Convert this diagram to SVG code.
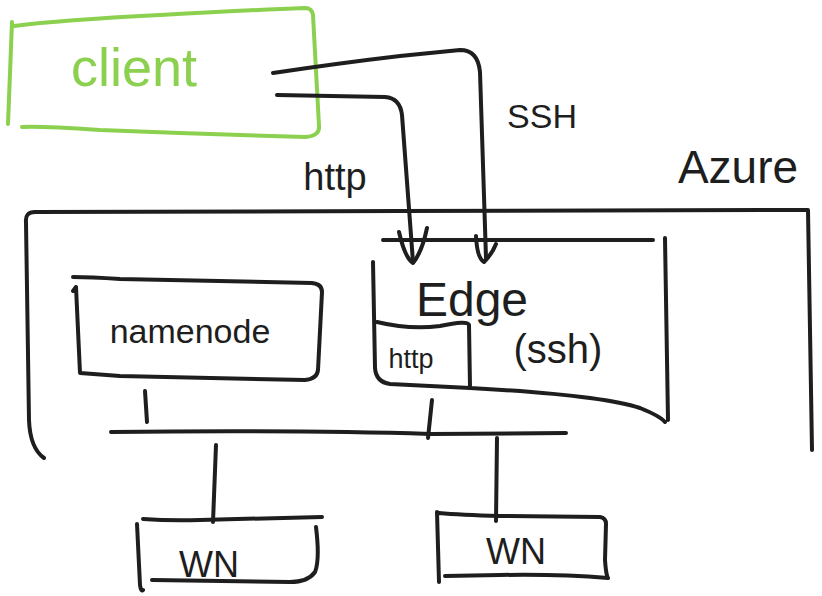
<svg xmlns="http://www.w3.org/2000/svg" width="822" height="596" viewBox="0 0 822 596">
<style>
.s{fill:none;stroke:#1e1e1e;stroke-width:4;stroke-linecap:round;stroke-linejoin:round}
.g{fill:none;stroke:#8cd04f;stroke-width:4;stroke-linecap:round;stroke-linejoin:round}
.t{font-family:"Liberation Sans",Arial,sans-serif;fill:#1e1e1e}
.tg{font-family:"Liberation Sans",Arial,sans-serif;fill:#8cd04f}
</style>
<rect width="822" height="596" fill="#ffffff"/>
<g id="client">
<path class="g" d="M12,22 L8,124 M14,26 Q60,20 160,15 Q250,10 305,8 Q312,8 313,15 L319,126 Q320,136 305,137 Q200,134 100,130 Q40,126 22,127"/>
<text class="tg" x="134" y="86" font-size="54" text-anchor="middle">client</text>
</g>
<g id="azure">
<path class="s" d="M44,458 Q30,448 29,420 L26,222 Q25,212 35,212 L400,211 L808,210 L812,450"/>
<text class="t" x="738" y="183" font-size="46" text-anchor="middle">Azure</text>
</g>
<g id="edge">
<path class="s" d="M383,240 L653,240 M665,238 L668,420 M373,262 L375,368 Q376,382 390,384 L470,388 Q600,395 640,408 Q660,416 665,422 M377,322 Q410,330 440,326 Q468,320 469,325 L470,387"/>
<text class="t" x="472" y="316" font-size="48" text-anchor="middle">Edge</text>
<text class="t" x="558" y="363" font-size="40" text-anchor="middle">(ssh)</text>
<text class="t" x="411" y="368" font-size="27" text-anchor="middle">http</text>
</g>
<g id="namenode">
<path class="s" d="M73,277 Q90,277 120,279 L312,283 Q322,284 322,292 L318,370 Q317,379 305,380 Q200,378 120,376 L80,373 L76,287 M76,287 L73,291"/>
<text class="t" x="190" y="343" font-size="34" text-anchor="middle">namenode</text>
</g>
<g id="wn1">
<path class="s" d="M143,519 Q170,521 200,520 L322,517 M137,524 L140,585 Q141,592 143,590 M316,527 Q320,560 315,572 Q308,582 290,582 L152,580"/>
<text class="t" x="209" y="577" font-size="36" text-anchor="middle">WN</text>
</g>
<g id="wn2">
<path class="s" d="M437,512 L439,582 M439,513 Q460,515 500,516 L600,517 Q606,518 606,524 L605,560 Q606,575 608,578 Q560,574 500,575 L445,576"/>
<text class="t" x="516" y="564" font-size="36" text-anchor="middle">WN</text>
</g>
<g id="connectors">
<path class="s" d="M273,73 Q340,63 400,56 L460,50 Q478,50 480,72 L486,258"/>
<path class="s" d="M476,236 Q477,258 484,262 Q492,254 496,244"/>
<path class="s" d="M277,95 L385,97 Q400,98 402,115 L413,262"/>
<path class="s" d="M399,232 Q405,258 413,263 Q422,252 427,228"/>
<text class="t" x="335" y="190" font-size="38" text-anchor="middle">http</text>
<text class="t" x="542" y="128" font-size="34" text-anchor="middle">SSH</text>
<path class="s" d="M145,391 L147,422"/>
<path class="s" d="M111,432 Q300,430 430,434 L566,433"/>
<path class="s" d="M432,400 L428,438"/>
<path class="s" d="M216,445 L213,522"/>
<path class="s" d="M497,438 L496,521"/>
</g>
</svg>
